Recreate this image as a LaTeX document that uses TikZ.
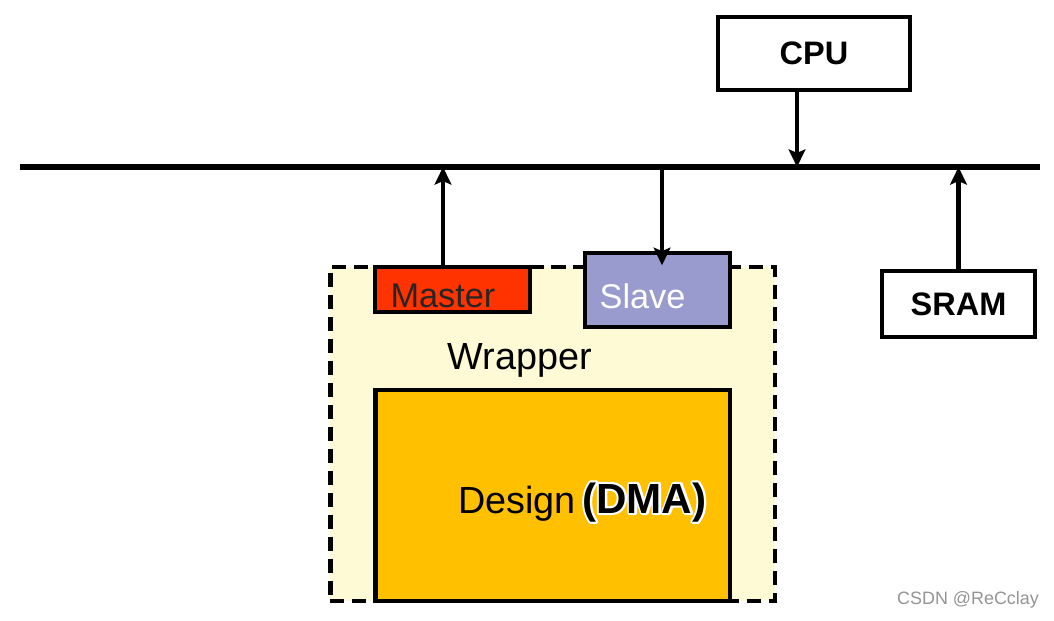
\documentclass[tikz,border=0pt]{standalone}
\usepackage{fontspec}
\setmainfont{Liberation Sans}
\usepackage{xcolor}
\usetikzlibrary{arrows.meta,positioning}
\definecolor{wrapfill}{RGB}{255,250,214}
\definecolor{masterred}{RGB}{255,51,0}
\definecolor{slaveblue}{RGB}{153,155,206}
\definecolor{designorange}{RGB}{255,192,0}
%% white outline behind a text (stroked copy, then the normal text on top)
\newcommand{\halotext}[1]{\rlap{\special{pdf:code q 1 Tr 1 1 1 RG 2.4 w 1 j}#1\special{pdf:code Q}}#1}

\begin{document}
\begin{tikzpicture}[x=0.02cm, y=-0.02cm, >={Stealth[length=10pt,width=9.5pt,inset=2pt]},
    busline/.style={line width=3.4pt},
    arr/.style={->,line width=2.4pt},
    chip/.style={draw, line width=2.8pt, fill=white, inner sep=0pt,
      font=\fontsize{18.5}{20}\selectfont\bfseries},
    port/.style={draw, line width=2pt, inner sep=0pt, text height=0.74cm, text depth=0pt,
      font=\fontsize{19.5}{21}\selectfont}]
  \useasboundingbox (0,0) rectangle (1054,621);
  %% System bus
  \coordinate (busL) at (20,167);
  \coordinate (busR) at (1040,167);
  \draw[busline] (busL) -- (busR);
  %% CPU and SRAM
  \node[chip, minimum width=3.84cm, minimum height=1.46cm] (cpu) at (814,53.5) {CPU};
  \node[chip, minimum width=3.06cm, minimum height=1.32cm] (sram) at (958.5,304) {SRAM};
  %% Wrapper around the DMA design
  \node[draw, dash pattern=on 8pt off 4.5pt, line width=2.8pt, fill=wrapfill,
    minimum width=8.9cm, minimum height=6.68cm, inner sep=0pt] (wrapper) at (552.5,434) {};
  \node[font=\fontsize{21.5}{23}\selectfont] (wraptxt) at (520,360) {Wrapper};
  \node[port, fill=masterred, text=black!85, minimum width=3.1cm, minimum height=0.9cm]
    (master) at (452.5,289.5) {\hspace*{-0.38cm}Master};
  \node[port, fill=slaveblue, text=white, minimum width=2.9cm, minimum height=1.48cm]
    (slave) at (657.5,290) {\hspace*{-0.6cm}Slave};
  %% Design block
  \node[draw, line width=2.8pt, fill=designorange, minimum width=7.1cm,
    minimum height=4.22cm, inner sep=0pt] (design) at (552.5,495.5) {};
  \node[font=\fontsize{21.5}{23}\selectfont, anchor=base west, inner sep=0pt] (designtxt) at (458,513)
    {Design\,{\fontsize{24}{26}\selectfont\bfseries\halotext{(DMA)}}};
  %% Bus connections
  \draw[arr] ([xshift=-0.34cm]cpu.south) -- ([xshift=-0.34cm]cpu.south |- busL);
  \draw[arr] (sram.north) -- (sram.north |- busL);
  \draw[arr] ([xshift=-0.19cm]master.north) -- ([xshift=-0.19cm]master.north |- busL);
  \draw[arr] ([xshift=0.09cm]slave.north |- busL) -- ([xshift=0.09cm,yshift=-0.28cm]slave.north);
  %% Watermark
  \node[font=\fontsize{10.2}{12}\selectfont, text=black!42] (mark) at (968,600) {CSDN @ReCclay};
\end{tikzpicture}
\end{document}
